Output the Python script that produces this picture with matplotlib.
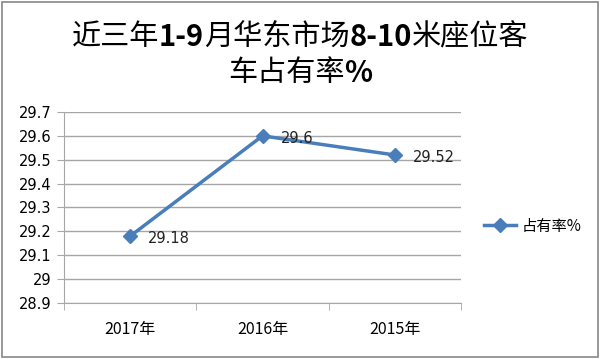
import matplotlib.pyplot as plt
import numpy as np

plt.rcParams['font.family'] = ['Noto Sans CJK SC', 'DejaVu Sans']

years = ["2017年", "2016年", "2015年"]
share = [29.18, 29.6, 29.52]
yticks = [28.9, 29, 29.1, 29.2, 29.3, 29.4, 29.5, 29.6, 29.7]
ytick_labels = ["28.9", "29", "29.1", "29.2", "29.3", "29.4", "29.5", "29.6", "29.7"]
title_line1 = [("近三年", "normal"), ("1-9", "bold"), ("月华东市场", "normal"),
               ("8-10", "bold"), ("米座位客", "normal")]
title_line2 = [("车占有率", "normal"), ("%", "bold")]

blue = "#4a7ebb"
grid_col = "#a6a6a6"

fig = plt.figure(figsize=(6, 3.59), dpi=100)
ax = fig.add_axes([64 / 600, 1 - 303 / 359, (461 - 64) / 600, (303 - 112) / 359])

x = np.arange(len(years))
ax.plot(x, share, color=blue, lw=2.5, marker="D", ms=7, label="占有率%")
for xi, v in zip(x, share):
    ax.annotate(f"{v:g}", (xi, v), xytext=(13, -2), textcoords="offset points",
                ha="left", va="center", fontsize=10.5, color="#222222",
                family=["DejaVu Sans"])

ax.set_xlim(-0.5, len(years) - 0.5)
ax.set_ylim(28.9, 29.7)
ax.set_yticks(yticks)
ax.set_yticklabels(ytick_labels, family=["DejaVu Sans"])
ax.set_xticks(x)
ax.set_xticklabels(years)
ax.set_xticks(np.arange(-0.5, len(years)), minor=True)
ax.tick_params(axis="x", which="major", length=0, pad=13, labelsize=11.5)
ax.tick_params(axis="x", which="minor", length=5, color=grid_col)
ax.tick_params(axis="y", length=5, color=grid_col, labelsize=10.5, pad=4)
ax.grid(axis="y", color=grid_col, lw=1)
ax.set_axisbelow(True)
for s in ["top", "right"]:
    ax.spines[s].set_visible(False)
ax.spines["left"].set_color(grid_col)
ax.spines["bottom"].set_color(grid_col)

# title with bold digits, laid out piece by piece
renderer = fig.canvas.get_renderer()


def draw_title(parts, y):
    texts = []
    total = 0
    for s, w in parts:
        t = fig.text(0, y, s, ha="left", va="center", fontsize=21, fontweight=w)
        bb = t.get_window_extent(renderer)
        texts.append((t, bb.width))
        total += bb.width
    start = (fig.bbox.width - total) / 2
    for t, w in texts:
        t.set_x(start / fig.bbox.width)
        start += w


draw_title(title_line1, 1 - 37 / 359)
draw_title(title_line2, 1 - 73 / 359)

fig.legend(loc="center left", bbox_to_anchor=(484 / 600, 1 - 226 / 359), frameon=False,
           fontsize=11, handlelength=2.1, handletextpad=0.35, borderaxespad=0,
           borderpad=0)

fig.patches.append(plt.Rectangle((0.004, 0.006), 0.992, 0.988, transform=fig.transFigure,
                                 fill=False, edgecolor="#888888", lw=1.2))

fig.savefig("out.png", dpi=100)
